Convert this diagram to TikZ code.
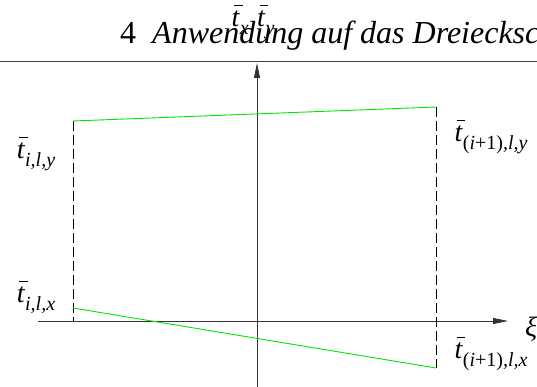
\documentclass[tikz,border=0pt]{standalone}
\usepackage{fontspec}
\setmainfont{Liberation Serif}
\usetikzlibrary{arrows.meta}
\newcommand{\tbar}{\leavevmode\rlap{\hspace{0.09em}\rule[0.74em]{0.3em}{0.045em}}\textit{t}}
\newcommand{\lsub}[1]{\raisebox{-0.28em}{\fontsize{20}{20}\selectfont\itshape #1}}
\tikzset{
  axis/.style={line width=0.9pt, draw=black!80, -{Triangle[length=15pt,width=6pt]}},
  rulel/.style={line width=0.9pt, draw=black!75},
  green line/.style={line width=0.9pt, draw=green!90!black},
  dashline/.style={line width=0.9pt, dash pattern=on 10pt off 4pt},
  lab/.style={inner sep=0pt, font=\fontsize{28}{28}\selectfont},
  head/.style={inner sep=0pt, anchor=base west, font=\fontsize{32}{32}\selectfont}
}
\begin{document}
\begin{tikzpicture}[x=1pt,y=-1pt]
\useasboundingbox (0,0) rectangle (537,387);
\clip (0,0) rectangle (537,387);
% header
\node[head] (hd) at (120,44) {4\hspace{0.5em}\itshape Anwendung auf das Dreiecksc};
\coordinate (rl) at (0,61);
\coordinate (rr) at (537,61);
\draw[rulel] (rl) -- (rr);
% axes
\coordinate (vb) at (257,387);
\coordinate (vt) at (257,63);
\coordinate (hl) at (38,321);
\coordinate (hr) at (508,321);
\draw[axis] (vb) -- (vt);
\draw[axis] (hl) -- (hr);
% corners
\coordinate (a) at (73,121);
\coordinate (b) at (436,107);
\coordinate (c) at (73,308);
\coordinate (d) at (436,368);
\coordinate (a0) at (73,321);
\draw[dashline] (a) -- (a0);
\draw[dashline] (b) -- (d);
\draw[green line] (a) -- (b);
\draw[green line] (c) -- (d);
% labels
\node[lab] (l1) at (36,154) {\tbar\lsub{i,l,y}};
\node[lab] (l2) at (36,297) {\tbar\lsub{i,l,x}};
\node[lab] (l3) at (491,137) {\tbar\lsub{{\upshape(}i{\upshape+1)},l,y}};
\node[lab] (l4) at (491,354) {\tbar\lsub{{\upshape(}i{\upshape+1)},l,x}};
\node[lab] (xi) at (531,329) {\textit{ξ}};
\node[lab, anchor=base] (top) at (253,27) {\tbar\lsub{x}\hspace{0.3em}\tbar\lsub{y}};
\end{tikzpicture}
\end{document}
